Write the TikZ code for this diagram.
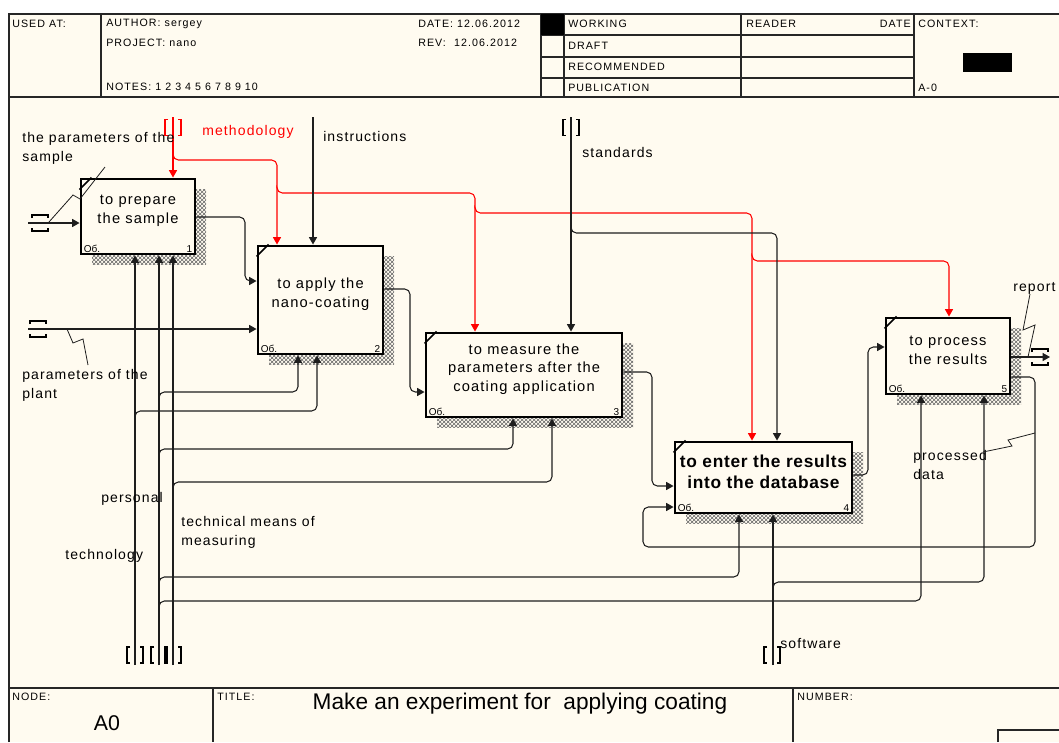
\documentclass[tikz,border=0pt]{standalone}
\usepackage{fontspec}
\setmainfont{Liberation Sans}
\newfontfamily\spaced[LetterSpace=8]{Liberation Sans}
\newfontfamily\boldspaced[LetterSpace=4]{Liberation Sans}
\newfontfamily\hdrfam[LetterSpace=10]{Liberation Sans}
\usetikzlibrary{arrows.meta,shadows,patterns}
\definecolor{paper}{RGB}{255,251,240}
\definecolor{ink}{RGB}{30,30,30}
\begin{document}
\begin{tikzpicture}[x=0.75pt,y=-0.75pt,
  frame/.style={draw=black!85,line width=1.1pt},
  proc/.style={draw=black,line width=2.2pt,fill=paper,inner sep=0pt,
    general shadow={shadow xshift=8.25pt,shadow yshift=-7.5pt,
      pattern=crosshatch,pattern color=black!60}},
  btext/.style={font=\spaced\fontsize{11}{14}\selectfont,align=center,inner sep=0pt},
  tag/.style={font=\fontsize{7.5}{8}\selectfont,inner sep=0pt},
  lbl/.style={font=\spaced\fontsize{10.5}{14}\selectfont,align=left,anchor=west,inner sep=0pt},
  hdr/.style={font=\hdrfam\fontsize{8}{9}\selectfont,anchor=west,inner sep=0pt},
  arr/.style={draw=ink,line width=0.8pt,rounded corners=4pt,-{Triangle[length=5.5pt,width=6pt]}},
  marr/.style={arr,draw=red},
  squig/.style={draw=ink,line width=0.6pt},
  tunv/.pic={\draw[line width=1pt] (-5,-8) -- (-8,-8) -- (-8,8) -- (-5,8)
                                   (5,-8) -- (8,-8) -- (8,8) -- (5,8);},
  tunh/.pic={\draw[line width=1pt] (-8,-5) -- (-8,-8) -- (8,-8) -- (8,-5)
                                   (-8,5) -- (-8,8) -- (8,8) -- (8,5);}]
\useasboundingbox (0,0) rectangle (1059,742);
% sheet
\fill[paper] (9,14) rectangle (1059,742);
\draw[frame] (9,742) -- (9,14) -- (1059,14);
\draw[frame] (9,97) -- (1059,97);
\draw[frame] (9,688) -- (1059,688);
\foreach \x in {101,541,564,741,914}
  \draw[frame] (\x,14) -- (\x,97);
\foreach \y in {35,57,78}
  \draw[frame] (541,\y) -- (914,\y);
\fill[black] (541,14) rectangle (564,35);
\fill[black] (963,53) rectangle (1012,72);
\foreach \x in {213,793}
  \draw[frame] (\x,688) -- (\x,742);
\draw[frame] (998,742) -- (998,730) -- (1059,730);
% header
\node[hdr] (usedat) at (12,24) {USED AT:};
\node[hdr] (author) at (106,24) {AUTHOR: sergey};
\node[hdr] (project) at (106,43) {PROJECT: nano};
\node[hdr] (notes) at (106,87) {NOTES: 1 2 3 4 5 6 7 8 9 10};
\node[hdr] (date) at (418,24) {DATE: 12.06.2012};
\node[hdr] (rev) at (418,43) {REV:\ \ 12.06.2012};
\node[hdr] (working) at (568,24) {WORKING};
\node[hdr] (draft) at (568,46) {DRAFT};
\node[hdr] (recom) at (568,67) {RECOMMENDED};
\node[hdr] (public) at (568,88) {PUBLICATION};
\node[hdr] (reader) at (746,24) {READER};
\node[hdr,anchor=east] (rdate) at (911,24) {DATE};
\node[hdr] (context) at (918,24) {CONTEXT:};
\node[hdr] (ctxnode) at (918,88) {A-0};
% footer
\node[hdr] (nodelbl) at (12,697) {NODE:};
\node[font=\fontsize{16}{18}\selectfont,inner sep=0pt] (nodeno) at (107,723) {A0};
\node[hdr] (titlelbl) at (217,697) {TITLE:};
\node[font=\fontsize{17}{20}\selectfont,inner sep=0pt] (title) at (520,704) {Make an experiment for\ \ applying coating};
\node[hdr] (numlbl) at (797,697) {NUMBER:};
% activities
\node[proc,minimum width=85.5pt,minimum height=56.25pt] (b1) at (138,216.5) {};
\node[proc,minimum width=93.75pt,minimum height=81pt] (b2) at (320.5,300) {};
\node[proc,minimum width=147pt,minimum height=63pt] (b3) at (524,375) {};
\node[proc,minimum width=132.75pt,minimum height=53.25pt] (b4) at (763.5,477.5) {};
\node[proc,minimum width=93pt,minimum height=57pt] (b5) at (948,356) {};
\node[btext] (b1t) at ([shift={(0,-6)}]b1.center) {to prepare\\the sample};
\node[btext] (b2t) at ([shift={(0,-6)}]b2.center) {to apply the\\nano-coating};
\node[btext] (b3t) at ([shift={(0,-6)}]b3.center) {to measure the\\parameters after the\\coating application};
\node[btext,font=\boldspaced\bfseries\fontsize{13}{16}\selectfont] (b4t) at ([shift={(0,-6)}]b4.center) {to enter the results\\into the database};
\node[btext] (b5t) at ([shift={(0,-6)}]b5.center) {to process\\the results};
\foreach \b/\n in {b1/1,b2/2,b3/3,b4/4,b5/5} {
  \draw[line width=1.2pt] ([shift={(12,0)}]\b.north west) -- ([shift={(0,12)}]\b.north west);
  \node[tag,anchor=south west] (\b-id) at ([shift={(4,-3)}]\b.south west) {Об.};
  \node[tag,anchor=south east] (\b-no) at ([shift={(-4,-3)}]\b.south east) {\n};
}
% boundary ends
\coordinate (meth) at (173,117);
\coordinate (instr) at (313,117);
\coordinate (stand) at (571,117);
\coordinate (parS) at (28,223);
\coordinate (parP) at (28,329);
\coordinate (tech) at (135,665);
\coordinate (pers) at (159,665);
\coordinate (tmm) at (173,665);
\coordinate (soft) at (773,665);
\coordinate (rep) at (1050,357);
% controls
\draw[marr] (meth) -- (173,0 |- b1.north);
\draw[marr] (173,155) -- (173,160) -| (277,0 |- b2.north);
\draw[marr] (277,188) -- (277,193) -| (475,0 |- b3.north);
\draw[marr] (475,208) -- (475,213) -| (752,0 |- b4.north);
\draw[marr] (752,256) -- (752,261) -| (949,0 |- b5.north);
\draw[arr] (instr) -- (313,0 |- b2.north);
\draw[arr] (stand) -- (571,0 |- b3.north);
\draw[arr] (571,228) -- (571,233) -| (777,0 |- b4.north);
% inputs and outputs
\draw[arr] (parS) -- (b1.west |- 0,223);
\draw[arr] (parP) -- (b2.west |- 0,329);
\draw[arr] (b1.east |- 0,217) -| (245,281) -- (b2.west |- 0,281);
\draw[arr] (b2.east |- 0,289) -| (410,392) -- (b3.west |- 0,392);
\draw[arr] (b3.east |- 0,372) -| (652,486) -- (b4.west |- 0,486);
\draw[arr] (b4.east |- 0,475) -| (868,347) -- (b5.west |- 0,347);
\draw[arr] (b5.east |- 0,357) -- (rep);
\draw[arr] (b5.east |- 0,377) -| (1035,547) -| (643,507) -- (b4.west |- 0,507);
% mechanisms
\draw[arr] (tech) -- (135,0 |- b1.south);
\draw[arr] (pers) -- (159,0 |- b1.south);
\draw[arr] (tmm) -- (173,0 |- b1.south);
\draw[arr] (135,416) -- (135,411) -| (317,0 |- b2.south);
\draw[arr] (159,397) -- (159,392) -| (298,0 |- b2.south);
\draw[arr] (159,454) -- (159,449) -| (513,0 |- b3.south);
\draw[arr] (173,487) -- (173,482) -| (552,0 |- b3.south);
\draw[arr] (159,582) -- (159,577) -| (739,0 |- b4.south);
\draw[arr] (159,606) -- (159,601) -| (921,0 |- b5.south);
\draw[arr] (soft) -- (773,0 |- b4.south);
\draw[arr] (773,587) -- (773,582) -| (984,0 |- b5.south);
% tunnels
\pic[red] at (173,127.5) {tunv};
\pic at (571,127.5) {tunv};
\pic at (40,223) {tunh};
\pic at (38,329) {tunh};
\pic at (1040,357) {tunh};
\foreach \x in {135,159,173,772}
  \pic at (\x,655) {tunv};
% labels
\node[lbl] (lparS) at (22,148.5) {the parameters of the\\sample};
\node[lbl,red] (lmeth) at (202,132) {methodology};
\node[lbl] (linstr) at (323,136) {instructions};
\node[lbl] (lstand) at (582,152) {standards};
\node[lbl] (lparP) at (22,385.5) {parameters of the\\plant};
\node[lbl] (lpers) at (101,499) {personal};
\node[lbl] (ltech) at (65,556) {technology};
\node[lbl] (ltmm) at (181,532.5) {technical means of\\measuring};
\node[lbl] (lsoft) at (780,643) {software};
\node[lbl] (lproc) at (913,465) {processed\\data};
\node[lbl] (lrep) at (1013,288) {report};
% squiggles
\draw[squig] (49,222) -- (73,195) -- (80,199) -- (105,167);
\draw[squig] (67,329) -- (73,343) -- (83,339) -- (88,365);
\draw[squig] (1028,357) -- (1035,325) -- (1023,330) -- (1030,294);
\draw[squig] (983,452) -- (1012,446) -- (1008,440) -- (1035,433);
\end{tikzpicture}
\end{document}
